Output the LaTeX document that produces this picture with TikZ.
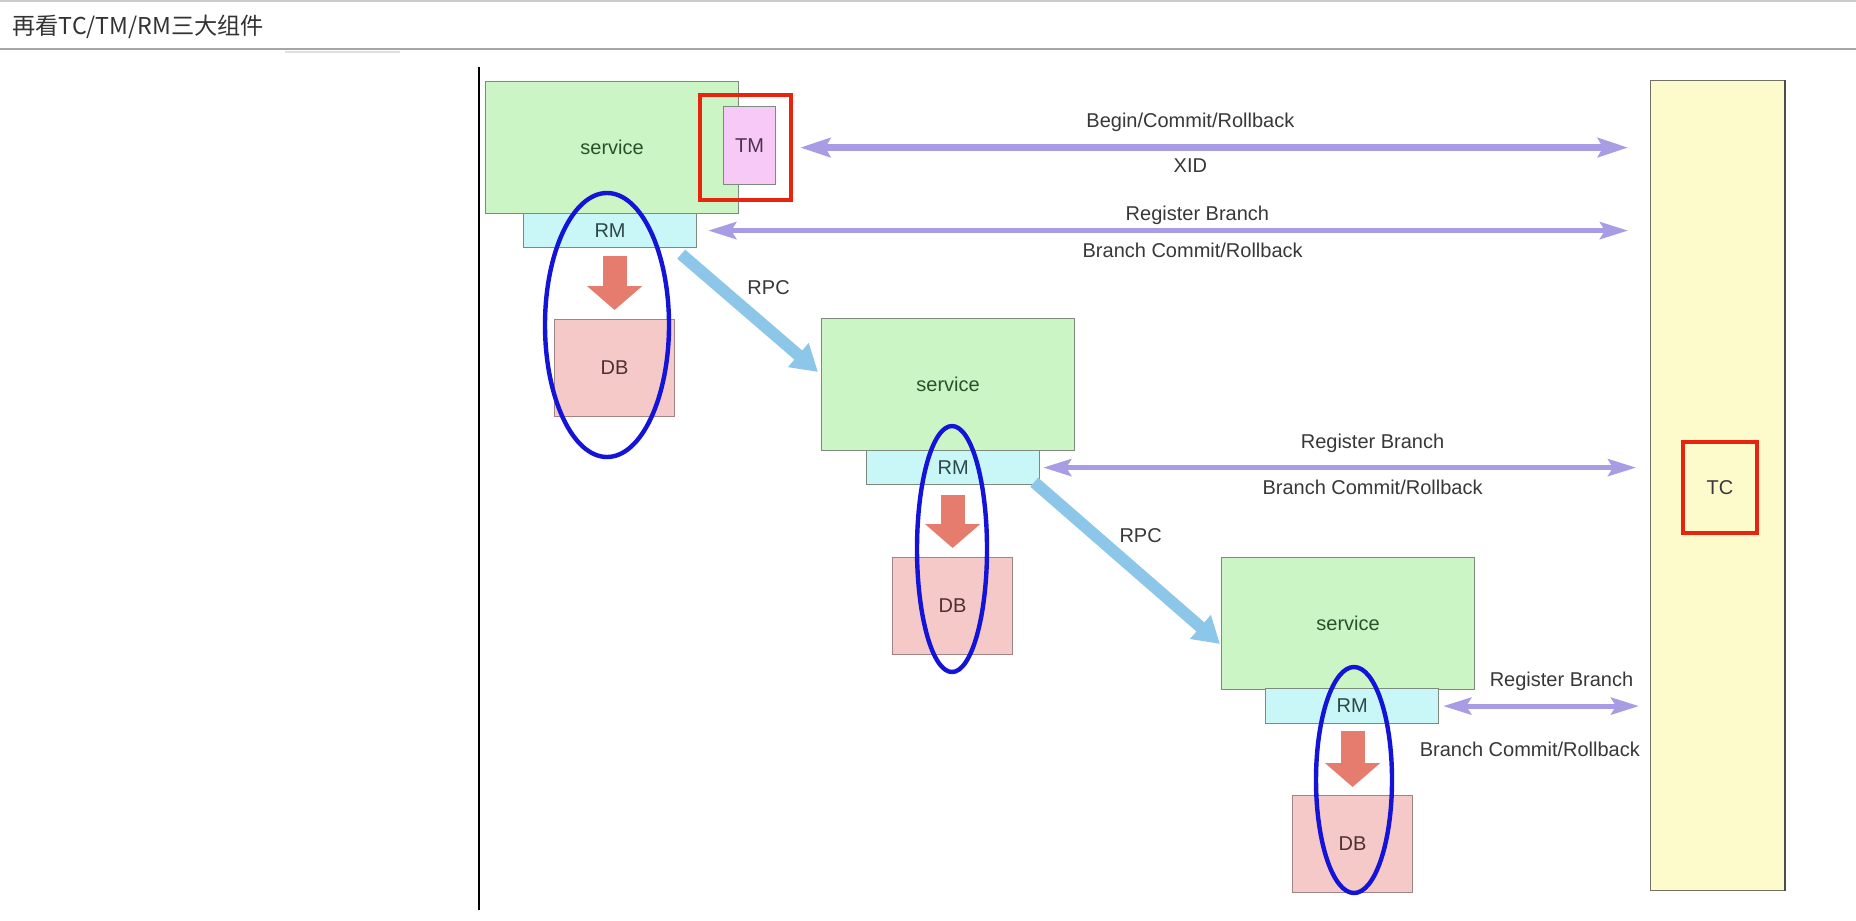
\documentclass[tikz,border=0pt]{standalone}
\usepackage{fontspec}
\setmainfont{Liberation Sans}
\newfontfamily\cjk{Noto Sans CJK SC}
\usetikzlibrary{arrows.meta,calc}
\definecolor{svcgreen}{HTML}{CCF5C6}
\definecolor{svctext}{HTML}{2A522A}
\definecolor{rmcyan}{HTML}{C9F6F6}
\definecolor{dbpink}{HTML}{F6C9C9}
\definecolor{tmpink}{HTML}{F6C9F6}
\definecolor{tcyellow}{HTML}{FDFBCB}
\definecolor{boxgray}{HTML}{7E8A7E}
\definecolor{dbborder}{HTML}{A08484}
\definecolor{markred}{HTML}{E8240E}
\definecolor{markblue}{HTML}{1414D8}
\definecolor{msgpurple}{HTML}{A89CE4}
\definecolor{rpcblue}{HTML}{8CC7EA}
\definecolor{dbarrow}{HTML}{E67C6E}
\definecolor{lbltext}{HTML}{383838}
\definecolor{rmtext}{HTML}{2E4848}
\definecolor{dbtext}{HTML}{4E3030}
\definecolor{tmtext}{HTML}{4E304E}
\tikzset{
  box/.style={draw=boxgray, line width=0.6pt, inner sep=0pt, anchor=north west,
    font=\fontsize{10}{12}\selectfont, text=lbltext},
  svc/.style={box, fill=svcgreen, minimum width=126.5pt, minimum height=66pt, text=svctext},
  rmbox/.style={box, fill=rmcyan, minimum width=86.5pt, minimum height=17pt, text=rmtext},
  dbbox/.style={box, fill=dbpink, draw=dbborder, minimum width=60pt, minimum height=48.5pt, text=dbtext},
  tmbox/.style={box, fill=tmpink, minimum width=26pt, minimum height=39pt, text=tmtext},
  redmark/.style={draw=markred, line width=2pt, inner sep=0pt, fill=none},
  bluemark/.style={draw=markblue, line width=2.2pt},
  msgarrow/.style={draw=msgpurple, line width=2.5pt,
    {Stealth[length=14pt,width=8.5pt,inset=2.5pt]}-{Stealth[length=14pt,width=8.5pt,inset=2.5pt]}},
  bigmsg/.style={msgarrow, line width=3.5pt,
    {Stealth[length=15pt,width=9.5pt,inset=2.5pt]}-{Stealth[length=15pt,width=9.5pt,inset=2.5pt]}},
  rpcarrow/.style={draw=rpcblue, line width=6pt, -{Triangle[length=13pt,width=15pt]}},
  dbflow/.style={draw=dbarrow, line width=12pt, -{Triangle[length=12pt,width=27pt]}},
  lbl/.style={font=\fontsize{10}{12}\selectfont, text=lbltext, inner sep=0pt},
}
\begin{document}
\begin{tikzpicture}[x=0.5pt,y=-0.5pt]
\useasboundingbox[fill=white] (0,0) rectangle (1856,920);
% window header
\draw[gray!40, line width=1pt] (0,1) -- (1856,1);
\node[anchor=west, inner sep=0pt, font=\cjk\fontsize{11.6}{14}\selectfont, text=black!80] (title) at (12,27) {再看TC/TM/RM三大组件};
\draw[gray!70, line width=1pt] (0,49) -- (1856,49);
\draw[gray!25, line width=1pt] (285,52) -- (400,52);
% left rule
\draw[black, line width=1pt] (479,67) -- (479,910);

% TC column
\node[box, fill=tcyellow, draw=gray!80!yellow!60!black, minimum width=67pt, minimum height=405pt] (tccol) at (1650,80) {};
\draw[black!70, line width=1pt] (tccol.north east) -- (tccol.south east);
\node[redmark, minimum width=37pt, minimum height=45.5pt, font=\fontsize{10}{12}\selectfont, text=lbltext] (tc) at (1720,487.5) {TC};

% services
\node[svc] (svc1) at (485,81) {service};
\node[tmbox] (tm) at (723,106) {TM};
\node[redmark, minimum width=45.5pt, minimum height=52.5pt] (tmmark) at (745.5,147.5) {};
\node[rmbox] (rm1) at (523,213) {RM};
\node[dbbox] (db1) at (554,319) {DB};

\node[svc] (svc2) at (821,318) {service};
\node[rmbox] (rm2) at (866,450) {RM};
\node[dbbox] (db2) at (892,557) {DB};

\node[svc] (svc3) at (1221,557) {service};
\node[rmbox, minimum height=17.5pt] (rm3) at (1265,688) {RM};
\node[dbbox] (db3) at (1292,795) {DB};

% RM -> DB arrows
\draw[dbflow] ($(rm1.south -| db1.north)+(0,8)$) -- ($(db1.north)+(0,-9)$);
\draw[dbflow] ($(rm2.south -| db2.north)+(0,10)$) -- ($(db2.north)+(0,-9)$);
\draw[dbflow] ($(rm3.south -| db3.north)+(0,7)$) -- ($(db3.north)+(0,-8)$);

% RPC arrows
\draw[rpcarrow] ($(rm1.south east)+(-16,6)$) -- ($(svc2.north west)+(-3,54)$)
  node[lbl, pos=0.5, xshift=9.5pt, yshift=12.75pt] {RPC};
\draw[rpcarrow] ($(rm2.south east)+(-6,-3)$) -- ($(svc3.north west)+(-1,87)$)
  node[lbl, pos=0.5, xshift=6.75pt, yshift=13.5pt] {RPC};

% TM/RM <-> TC messages
\draw[bigmsg, shorten <=12pt, shorten >=11pt] ($(tm.east)+(0,2)$) -- ($(tm.east -| tccol.west)+(0,2)$)
  node[lbl, pos=0.474, yshift=12.5pt] {Begin/Commit/Rollback}
  node[lbl, pos=0.474, yshift=-9pt] {XID};
\draw[msgarrow, shorten <=5.5pt, shorten >=11pt] (rm1.east) -- (rm1.east -| tccol.west)
  node[lbl, pos=0.525, yshift=7.5pt] {Register Branch}
  node[lbl, pos=0.52, yshift=-10pt] {Branch Commit/Rollback};
\draw[msgarrow, shorten <=1.5pt, shorten >=7pt] (rm2.east) -- (rm2.east -| tccol.west)
  node[lbl, pos=0.545, yshift=12pt] {Register Branch}
  node[lbl, pos=0.545, yshift=-10pt] {Branch Commit/Rollback};
\draw[msgarrow, shorten <=2pt, shorten >=5.5pt] (rm3.east) -- (rm3.east -| tccol.west)
  node[lbl, pos=0.58, yshift=12.5pt] {Register Branch}
  node[lbl, pos=0.43, yshift=-21.5pt] {Branch Commit/Rollback};

% blue marks
\draw[bluemark] (607,325) ellipse [x radius=31pt, y radius=66pt];
\draw[bluemark] (952,549) ellipse [x radius=17.5pt, y radius=61.5pt];
\draw[bluemark] (1354,780) ellipse [x radius=19pt, y radius=56.5pt];
\end{tikzpicture}
\end{document}
